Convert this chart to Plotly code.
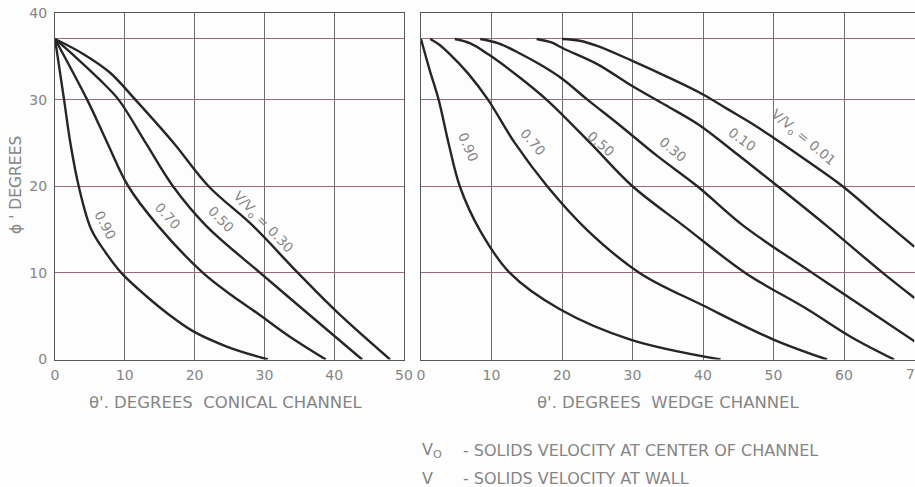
import plotly.graph_objects as go

# ---------------- data ----------------
# Conical channel: theta' (deg) vs phi (deg) for each V/Vo
cone_labels = ["0.90", "0.70", "0.50", "0.30"]
cone_theta = [
    [0, 1.3, 2.2, 3.4, 5.2, 7.3, 9.5, 13.1, 16.3, 19.7, 24.6, 30.5],
    [0, 4.6, 7.5, 10.5, 14.8, 21.2, 25.5, 28.9, 33.7, 38.8],
    [0, 3.1, 6.4, 9.1, 13.0, 16.9, 21.7, 29.4, 36.1, 44.0],
    [0, 4.1, 7.9, 11.5, 17.0, 22.0, 28.4, 34.8, 40.5, 48.0],
]
cone_phi = [
    [37, 30, 25, 20, 15, 12.3, 10, 7.3, 5.2, 3.3, 1.5, 0],
    [37, 30, 25, 20, 15.4, 10, 7.3, 5.4, 2.6, 0],
    [37, 34.8, 32.3, 30, 25, 20, 15.4, 10, 5.4, 0],
    [37, 35.25, 33.1, 30, 25, 20, 15.4, 10, 5.4, 0],
]

# Wedge channel
wedge_labels = ["0.90", "0.70", "0.50", "0.30", "0.10", "0.01"]
wedge_theta = [
    [0, 1.2, 2.5, 3.9, 5.5, 8.3, 12.6, 19.7, 29.7, 42.5],
    [1.3, 2.5, 3.9, 6.7, 9.5, 13.3, 17.9, 23.5, 31.0, 40.1, 50.0, 57.6],
    [4.8, 7.0, 9.6, 14.1, 17.8, 24.0, 30.0, 37.3, 46.0, 54.8, 61.0, 67.1],
    [8.4, 11.0, 14.1, 17.2, 20.2, 23.6, 27.8, 33.5, 39.2, 45.8, 55.5, 64.7, 70.0],
    [16.4, 18.5, 20.2, 25.0, 29.9, 34.6, 39.4, 45.0, 50.6, 57.6, 65.5, 70.0],
    [20.0, 22.5, 25.0, 29.9, 35.0, 40.0, 43.5, 47.2, 50.0, 55.0, 59.8, 65.3, 70.0],
]
wedge_phi = [
    [37, 33.5, 30, 25, 20, 15, 10, 5.8, 2.3, 0],
    [37, 36.4, 35.4, 33, 30, 25, 20, 15, 10, 6.2, 2.3, 0],
    [37, 36.5, 35.2, 32.5, 30, 25, 20, 15.4, 10, 5.8, 2.6, 0],
    [37, 36.5, 35.3, 33.9, 32.3, 30, 27.3, 23.5, 20, 15.4, 10, 5.0, 2.1],
    [37, 36.6, 35.9, 34.1, 31.6, 29.4, 27.1, 23.6, 20, 15.4, 10, 7.1],
    [37, 36.8, 36.2, 34.5, 32.6, 30.6, 28.9, 27.1, 25.6, 22.8, 20, 16.2, 13.0],
]

# label positions (theta', phi) and rotation
cone_label_pos = [(7.2, 15.5, 62), (16.2, 16.6, 48), (23.8, 16.2, 46), (29.8, 15.9, 46)]
cone_label_text = ["0.90", "0.70", "0.50", "V/V<sub>o</sub> = 0.30"]
wedge_label_pos = [(6.7, 24.5, 66), (15.9, 25.1, 50), (25.6, 24.9, 40),
                   (35.7, 24.3, 40), (45.5, 25.4, 36), (54.3, 25.6, 40)]
wedge_label_text = ["0.90", "0.70", "0.50", "0.30", "0.10", "V/V<sub>o</sub> = 0.01"]

x_ticks_cone = [0, 10, 20, 30, 40, 50]
x_ticks_wedge = [0, 10, 20, 30, 40, 50, 60, 70]
y_ticks = [0, 10, 20, 30, 40]
y_extra_line = [37]   # angle of internal friction line

# ---------------- figure ----------------
W, H = 915, 487
FONT = "DejaVu Sans, Liberation Sans, sans-serif"
TXT = "#858585"
CURVE = "#262626"
HGRID = "#9c6a72"

fig = go.Figure()
for th, ph in zip(cone_theta, cone_phi):
    fig.add_trace(go.Scatter(x=th, y=ph, xaxis="x", yaxis="y", mode="lines",
                             line=dict(color=CURVE, width=2.4, shape="spline", smoothing=1.0),
                             hoverinfo="skip", showlegend=False))
for th, ph in zip(wedge_theta, wedge_phi):
    fig.add_trace(go.Scatter(x=th, y=ph, xaxis="x2", yaxis="y2", mode="lines",
                             line=dict(color=CURVE, width=2.4, shape="spline", smoothing=1.0),
                             hoverinfo="skip", showlegend=False))

ydom = [1 - 359.5 / H, 1 - 13 / H]
common_x = dict(showgrid=True, gridcolor="#6e6e6e", gridwidth=1, zeroline=False,
                showline=True, mirror=True, linecolor="#555555", linewidth=1.3,
                ticks="", ticklabelstandoff=3, automargin=False,
                tickfont=dict(family=FONT, size=14, color=TXT))
common_y = dict(showgrid=True, gridcolor=HGRID, gridwidth=1, zeroline=False,
                showline=True, mirror=True, linecolor="#555555", linewidth=1.3,
                ticks="", tickvals=y_ticks, range=[0, 40],
                minor=dict(tickvals=y_extra_line, showgrid=True, gridcolor=HGRID,
                           gridwidth=1, ticks=""),
                domain=ydom, ticklabelstandoff=4, automargin=False,
                tickfont=dict(family=FONT, size=14, color=TXT))

fig.update_layout(
    width=W, height=H, margin=dict(l=0, r=0, t=0, b=0, autoexpand=False),
    paper_bgcolor="#fdfdfd", plot_bgcolor="#fdfdfd",
    xaxis=dict(domain=[55 / W, 404 / W], range=[0, 50], tickvals=x_ticks_cone,
               anchor="y", **common_x),
    yaxis=dict(anchor="x", **common_y),
    xaxis2=dict(domain=[421 / W, 914.5 / W], range=[0, 70], tickvals=x_ticks_wedge,
                anchor="y2", **common_x),
    yaxis2=dict(anchor="x2", showticklabels=False, **common_y),
)

ann = []
for (x, y, a), t in zip(cone_label_pos, cone_label_text):
    ann.append(dict(x=x, y=y, xref="x", yref="y", text=t, textangle=a, showarrow=False,
                    xanchor="center", yanchor="middle",
                    font=dict(family=FONT, size=13.5, color=TXT)))
for (x, y, a), t in zip(wedge_label_pos, wedge_label_text):
    ann.append(dict(x=x, y=y, xref="x2", yref="y2", text=t, textangle=a, showarrow=False,
                    xanchor="center", yanchor="middle",
                    font=dict(family=FONT, size=13.5, color=TXT)))

def paper(px, py):
    return px / W, 1 - py / H

# last wedge tick label, cut by the page edge as in the reference
ann.append(dict(x=x_ticks_wedge[-1], y=1 - 374 / H, xref="x2", yref="paper",
                text=str(x_ticks_wedge[-1]), xanchor="center", yanchor="middle",
                showarrow=False, font=dict(family=FONT, size=14, color=TXT)))

# axis titles
x, y = paper(16, 185)
ann.append(dict(x=x, y=y, xref="paper", yref="paper", text="ϕ ' DEGREES", textangle=-90,
                xanchor="center", yanchor="middle",
                showarrow=False, font=dict(family=FONT, size=15.5, color=TXT)))
x, y = paper(226, 402)
ann.append(dict(x=x, y=y, xref="paper", yref="paper", text="θ'. DEGREES  CONICAL CHANNEL",
                xanchor="center", yanchor="middle",
                showarrow=False, font=dict(family=FONT, size=16.5, color=TXT)))
x, y = paper(668, 402)
ann.append(dict(x=x, y=y, xref="paper", yref="paper", text="θ'. DEGREES  WEDGE CHANNEL",
                xanchor="center", yanchor="middle",
                showarrow=False, font=dict(family=FONT, size=16.5, color=TXT)))

# notes
notes = [("V<sub>O</sub>", "- SOLIDS VELOCITY AT CENTER OF CHANNEL", 450),
         ("V", "- SOLIDS VELOCITY AT WALL", 478)]
for sym, desc, py in notes:
    x, y = paper(420, py)
    ann.append(dict(x=x, y=y, xref="paper", yref="paper", text=sym,
                    xanchor="left", yanchor="middle",
                    showarrow=False, font=dict(family=FONT, size=16, color=TXT)))
    x, y = paper(461, py)
    ann.append(dict(x=x, y=y, xref="paper", yref="paper", text=desc,
                    xanchor="left", yanchor="middle",
                    showarrow=False, font=dict(family=FONT, size=16, color=TXT)))

fig.update_layout(annotations=ann)
fig.write_html("out.html",
               post_script="document.body.style.margin='0px';document.body.style.overflow='hidden';")
